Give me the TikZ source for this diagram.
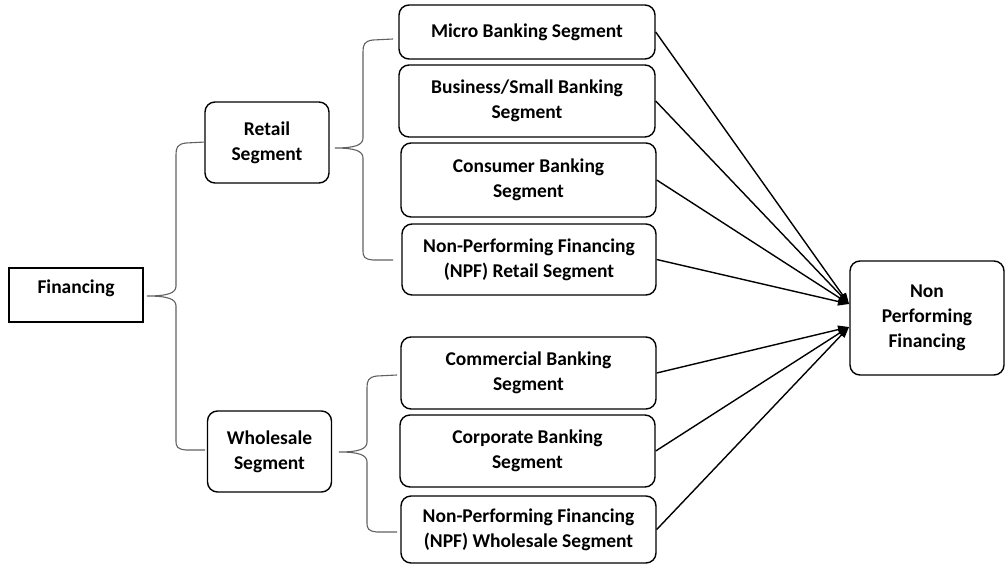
\documentclass[tikz,border=0pt]{standalone}
\usepackage{fontspec}
\setmainfont{Carlito}
\usetikzlibrary{arrows.meta}
\begin{document}
\begin{tikzpicture}[x=1pt,y=-1pt,
  every node/.style={font=\bfseries\fontsize{19.5}{25}\selectfont, align=center, inner sep=0pt},
  rbox/.style={draw=black, line width=1.4pt, rounded corners=10pt},
  sbox/.style={draw=black, line width=1.4pt},
  arr/.style={draw=black, line width=1.4pt, -{Triangle[length=11pt,width=8pt]}},
  brace/.style={draw=black!62, line width=1.1pt}]
\useasboundingbox (0,0) rectangle (1006,565);

% nodes
\node[sbox, minimum width=134, minimum height=54, text height=12pt, text depth=15pt] (fin) at (76,295) {Financing};
\node[rbox, minimum width=124, minimum height=81] (retail) at (267,142.5) {Retail\\Segment};
\node[rbox, minimum width=124, minimum height=81] (whole) at (269.5,451.5) {Wholesale\\Segment};

\node[rbox, minimum width=256, minimum height=54] (micro) at (527,32) {Micro Banking Segment};
\node[rbox, minimum width=256, minimum height=72] (bus) at (527,101) {Business/Small Banking\\Segment};
\node[rbox, minimum width=255, minimum height=74] (cons) at (528.5,180) {Consumer Banking\\Segment};
\node[rbox, minimum width=254, minimum height=71] (npfr) at (529,259.5) {Non-Performing Financing\\(NPF) Retail Segment};
\node[rbox, minimum width=255, minimum height=72] (comm) at (528.5,373) {Commercial Banking\\Segment};
\node[rbox, minimum width=255, minimum height=72] (corp) at (527.5,451) {Corporate Banking\\Segment};
\node[rbox, minimum width=255, minimum height=67] (npfw) at (528.5,529.5) {Non-Performing Financing\\(NPF) Wholesale Segment};

\node[rbox, minimum width=154, minimum height=114] (npf) at (927,318) {Non\\Performing\\Financing};

% arrow targets
\coordinate (tA) at (849,304);
\coordinate (tB) at (849,327);

\draw[arr] (micro.east) -- (tA);
\draw[arr] (bus.east) -- (tA);
\draw[arr] (cons.east) -- (tA);
\draw[arr] (npfr.east) -- (tA);
\draw[arr] (comm.east) -- (tB);
\draw[arr] (corp.east) -- (tB);
\draw[arr] (npfw.east) -- (tB);

% braces
\draw[brace] (205,142) -- (186,143) .. controls (177,144) and (176,148) .. (176,155)
  -- (176,286) .. controls (176,293) and (168,296) .. (147,296)
  .. controls (168,296) and (176,299) .. (176,306)
  -- (176,440) .. controls (176,447) and (177,449) .. (186,450) -- (205,450);

\draw[brace] (393,39) -- (373,40) .. controls (364,41) and (363,45) .. (363,52)
  -- (363,138) .. controls (363,145) and (355,148) .. (335,148)
  .. controls (355,148) and (363,151) .. (363,158)
  -- (363,250) .. controls (363,257) and (364,259) .. (373,260) -- (393,260);

\draw[brace] (397,375) -- (377,376) .. controls (368,377) and (367,381) .. (367,388)
  -- (367,442) .. controls (367,449) and (359,452) .. (339,452)
  .. controls (359,452) and (367,455) .. (367,462)
  -- (367,522) .. controls (367,529) and (368,531) .. (377,532) -- (397,532);
\end{tikzpicture}
\end{document}
